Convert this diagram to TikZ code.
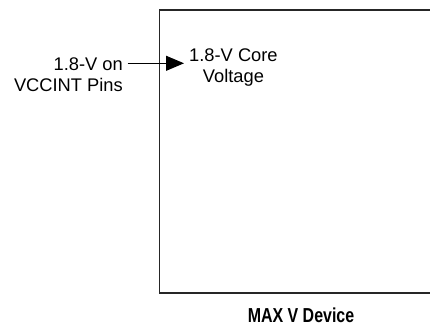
\documentclass[tikz,border=0pt]{standalone}
\usepackage{fontspec}
\setmainfont{Liberation Sans}
\newfontfamily\condbold[FakeStretch=0.79]{Liberation Sans Bold}
\usetikzlibrary{arrows.meta}
\tikzset{
  lbl/.style={font=\fontsize{18.3pt}{21.5pt}\selectfont, inner ysep=0pt, align=center},
  devbox/.style={draw=black!85, line width=1.3pt, inner sep=0pt},
  feed/.style={draw=black, line width=1pt, -{Triangle[length=18pt,width=15pt]}},
  title/.style={font=\condbold\fontsize{20.2pt}{24pt}\selectfont, inner sep=0pt}
}
\begin{document}
\begin{tikzpicture}[x=1pt,y=1pt]
\useasboundingbox (0,0) rectangle (430,-326);
\fill[white] (0,0) rectangle (430,-326);
\node[devbox, anchor=north west, minimum width=300pt, minimum height=282.8pt] (dev) at (158.7,-9.5) {};
\node[lbl, align=right, anchor=base east, inner xsep=4.5pt] (pins) at (127.5,-92) {1.8-V on\\VCCINT Pins};
\node[lbl, anchor=base west, inner xsep=5pt] (core) at (184,-83) {1.8-V Core\\Voltage};
\coordinate (ay) at (0,-63.3);
\draw[feed] (pins.east |- ay) -- (core.west |- ay);
\node[title, anchor=base] (name) at (301,-322) {MAX V Device};
\end{tikzpicture}
\end{document}
